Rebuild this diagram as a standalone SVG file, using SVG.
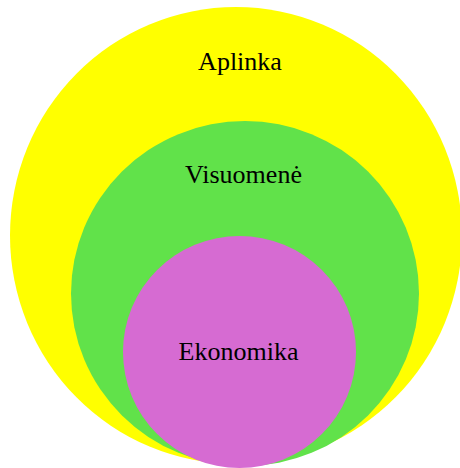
<svg xmlns="http://www.w3.org/2000/svg" width="460" height="468" viewBox="0 0 460 468">
<style>
.lbl{font-family:"Liberation Serif","Times New Roman",serif;font-size:26px;fill:#000;text-anchor:middle}
</style>
<rect width="460" height="468" fill="#fff"/>
<g id="aplinka">
<ellipse cx="236" cy="235.5" rx="226" ry="228.5" fill="#ffff00"/>
<text class="lbl" x="240" y="70">Aplinka</text>
</g>
<g id="visuomene">
<ellipse cx="245" cy="293.5" rx="174" ry="172.5" fill="#61e24a"/>
<text class="lbl" x="243.5" y="183">Visuomenė</text>
</g>
<g id="ekonomika">
<ellipse cx="239.5" cy="352" rx="116.5" ry="116" fill="#d66bd2"/>
<text class="lbl" x="238.5" y="360">Ekonomika</text>
</g>
<g id="connectors"/>
</svg>
